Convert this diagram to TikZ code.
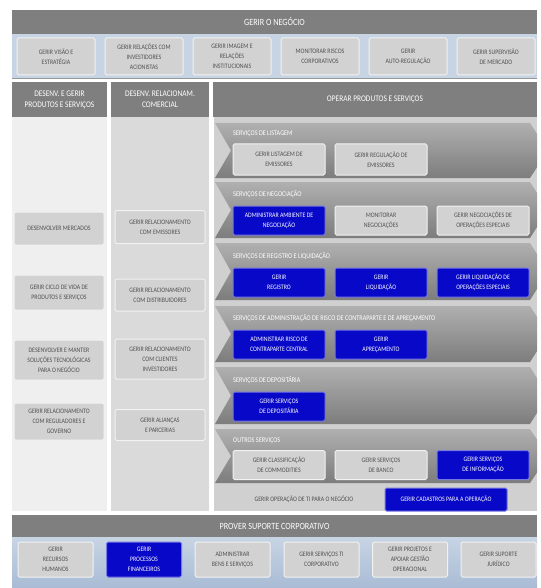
\documentclass[tikz,border=0pt]{standalone}
\usepackage{fontspec}
\setmainfont{Carlito}[FakeStretch=0.86]
\usepackage{xcolor}
\usepackage{tikz}
\usetikzlibrary{
positioning,
calc
}
\definecolor{hdrgray}{HTML}{7F7F7F}
\definecolor{bandblue}{HTML}{C7D4E4}
\definecolor{bandbluedk}{HTML}{A9BCD5}
\definecolor{boxgray}{HTML}{D2D2D2}
\definecolor{boxtext}{HTML}{505050}
\definecolor{procblue}{RGB}{8,8,200}
\definecolor{colone}{HTML}{EFEFEF}
\definecolor{coltwo}{HTML}{DADADA}
\definecolor{colthree}{HTML}{D0D0D0}
\definecolor{chevgray}{HTML}{9C9C9C}

\tikzset{
  hdrtext/.style={text=white, align=center, inner sep=0pt, font=\fontsize{8.6}{11}\selectfont},
  procbox/.style={fill=boxgray, draw=white!70!boxgray, line width=1pt, rounded corners=1.5pt,
    text=boxtext, align=center, inner sep=1pt, font=\fontsize{6.8}{10}\selectfont},
  bluebox/.style={procbox, fill=procblue, draw=procblue!55!white, text=white},
  topbox/.style={minimum width=78, minimum height=37},
  colbox/.style={minimum width=90},
  chevbox/.style={minimum width=92, minimum height=29},
  botbox/.style={minimum width=75, minimum height=35},
  chevlabel/.style={text=white, anchor=west, inner sep=0pt, font=\fontsize{7.2}{8}\selectfont}
}

\begin{document}
\begin{tikzpicture}[x=1pt, y=-1pt]
  \useasboundingbox (0,0) rectangle (540,588);
  % Gerir o negocio
  \fill[hdrgray] (12,10) rectangle (537,34);
  \fill[bandblue] (12,34) rectangle (537,79);
  \draw[hdrgray!80, line width=1pt] (12,79) -- (537,79);
  \node[hdrtext, font=\fontsize{9.5}{10}\selectfont] (negocio) at (274.5,22) {GERIR O NEGÓCIO};
  \node[procbox, topbox] (visao) at (56,56.5) {GERIR VISÃO E\\ESTRATÉGIA};
  \node[procbox, topbox] (acionistas) at (144,56.5) {GERIR RELAÇÕES COM\\INVESTIDORES\\ACIONISTAS};
  \node[procbox, topbox] (imagem) at (232,56.5) {GERIR IMAGEM E\\RELAÇÕES\\INSTITUCIONAIS};
  \node[procbox, topbox] (riscos) at (320,56.5) {MONITORAR RISCOS\\CORPORATIVOS};
  \node[procbox, topbox] (autoreg) at (408,56.5) {GERIR\\AUTO-REGULAÇÃO};
  \node[procbox, topbox] (supervisao) at (496,56.5) {GERIR SUPERVISÃO\\DE MERCADO};

  % Column headers and bodies
  \fill[hdrgray] (12,82) rectangle (107,117);
  \fill[hdrgray] (111,82) rectangle (209,117);
  \fill[hdrgray] (213,82) rectangle (537,117);
  \fill[colone] (12,117) rectangle (107,511);
  \fill[coltwo] (111,117) rectangle (209,511);
  \fill[colthree] (213,117) rectangle (537,511);
  \draw[white, line width=1.5pt] (213,117) -- (213,512) -- (537,512);
  \node[hdrtext] (desenvgerir) at (59.5,99.5) {DESENV. E GERIR\\PRODUTOS E SERVIÇOS};
  \node[hdrtext] (relacionam) at (160,99.5) {DESENV. RELACIONAM.\\COMERCIAL};
  \node[hdrtext] (operar) at (375,99.5) {OPERAR PRODUTOS E SERVIÇOS};

  % Desenv. e gerir produtos e servicos
  \node[procbox, colbox, minimum height=33] (mercados) at (59,228.5) {DESENVOLVER MERCADOS};
  \node[procbox, colbox, minimum height=35] (ciclo) at (59,292.5) {GERIR CICLO DE VIDA DE\\PRODUTOS E SERVIÇOS};
  \node[procbox, colbox, minimum height=40] (solucoes) at (59,360) {DESENVOLVER E MANTER\\SOLUÇÕES TECNOLÓGICAS\\PARA O NEGÓCIO};
  \node[procbox, colbox, minimum height=37] (reguladores) at (59,421.5) {GERIR RELACIONAMENTO\\COM REGULADORES E\\GOVERNO};

  % Desenv. relacionam. comercial
  \node[procbox, colbox, minimum height=33] (emissores) at (160,227) {GERIR RELACIONAMENTO\\COM EMISSORES};
  \node[procbox, colbox, minimum height=32] (distribuidores) at (160,295) {GERIR RELACIONAMENTO\\COM DISTRIBUIDORES};
  \node[procbox, colbox, minimum height=40] (clientes) at (160,359) {GERIR RELACIONAMENTO\\COM CLIENTES\\INVESTIDORES};
  \node[procbox, colbox, minimum height=31] (aliancas) at (160,425) {GERIR ALIANÇAS\\E PARCERIAS};

  % Chevrons of operar produtos e servicos
  \begin{scope}
    \clip (213,117) rectangle (537,511);
    \foreach \t/\b in {123/178, 182/238, 243/300, 306/362, 367/424, 429/483} {
      \shade[top color=chevgray!80!white, bottom color=chevgray!80!black]
        (215,\t) -- (530,\t) -- (548,{(\t+\b)/2}) -- (530,\b) -- (215,\b) -- (231,{(\t+\b)/2}) -- cycle;
    }
  \end{scope}
  \node[chevlabel] (listagem) at (233,134) {SERVIÇOS DE LISTAGEM};
  \node[procbox, chevbox, minimum height=31] (glistagem) at (279,159.5) {GERIR LISTAGEM DE\\EMISSORES};
  \node[procbox, chevbox, minimum height=31] (gregulacao) at (381,159.5) {GERIR REGULAÇÃO DE\\EMISSORES};

  \node[chevlabel] (negociacao) at (233,194) {SERVIÇOS DE NEGOCIAÇÃO};
  \node[bluebox, chevbox] (ambiente) at (279,220.5) {ADMINISTRAR AMBIENTE DE\\NEGOCIAÇÃO};
  \node[procbox, chevbox] (monitorar) at (381,220.5) {MONITORAR\\NEGOCIAÇÕES};
  \node[procbox, chevbox] (especiais) at (483,220.5) {GERIR NEGOCIAÇÕES DE\\OPERAÇÕES ESPECIAIS};

  \node[chevlabel] (registro) at (233,256) {SERVIÇOS DE REGISTRO E LIQUIDAÇÃO};
  \node[bluebox, chevbox] (gregistro) at (279,282.5) {GERIR\\REGISTRO};
  \node[bluebox, chevbox] (gliquidacao) at (381,282.5) {GERIR\\LIQUIDAÇÃO};
  \node[bluebox, chevbox] (liqespeciais) at (483,282.5) {GERIR LIQUIDAÇÃO DE\\OPERAÇÕES ESPECIAIS};

  \node[chevlabel] (risco) at (233,318) {SERVIÇOS DE ADMINISTRAÇÃO DE RISCO DE CONTRAPARTE E DE APREÇAMENTO};
  \node[bluebox, chevbox] (contraparte) at (279,344.5) {ADMINISTRAR RISCO DE\\CONTRAPARTE CENTRAL};
  \node[bluebox, chevbox] (aprecamento) at (381,344.5) {GERIR\\APREÇAMENTO};

  \node[chevlabel] (depositaria) at (233,380) {SERVIÇOS DE DEPOSITÁRIA};
  \node[bluebox, chevbox] (gdepositaria) at (279,406.5) {GERIR SERVIÇOS\\DE DEPOSITÁRIA};

  \node[chevlabel] (outros) at (233,441) {OUTROS SERVIÇOS};
  \node[procbox, chevbox] (commodities) at (279,465) {GERIR CLASSIFICAÇÃO\\DE COMMODITIES};
  \node[procbox, chevbox] (banco) at (381,465) {GERIR SERVIÇOS\\DE BANCO};
  \node[bluebox, chevbox] (informacao) at (483,465) {GERIR SERVIÇOS\\DE INFORMAÇÃO};

  \node[text=boxtext, inner sep=1pt, font=\fontsize{6.8}{8}\selectfont] (operacaoti) at (304,499) {GERIR OPERAÇÃO DE TI PARA O NEGÓCIO};
  \node[bluebox, minimum width=122, minimum height=23] (cadastros) at (446,499.5) {GERIR CADASTROS PARA A OPERAÇÃO};

  % Prover suporte corporativo
  \fill[hdrgray] (12,515) rectangle (537,537);
  \shade[top color=bandblue, bottom color=bandbluedk] (12,537) rectangle (537,588);
  \node[hdrtext, font=\fontsize{9.5}{10}\selectfont] (suporte) at (274.5,526) {PROVER SUPORTE CORPORATIVO};
  \node[procbox, botbox] (humanos) at (55.5,559.5) {GERIR\\RECURSOS\\HUMANOS};
  \node[bluebox, botbox] (financeiros) at (144,559.5) {GERIR\\PROCESSOS\\FINANCEIROS};
  \node[procbox, botbox] (bens) at (232.5,559.5) {ADMINISTRAR\\BENS E SERVIÇOS};
  \node[procbox, botbox] (servicosti) at (321.5,559.5) {GERIR SERVIÇOS TI\\CORPORATIVO};
  \node[procbox, botbox] (projetos) at (410,559.5) {GERIR PROJETOS E\\APOIAR GESTÃO\\OPERACIONAL};
  \node[procbox, botbox] (juridico) at (498.5,559.5) {GERIR SUPORTE\\JURÍDICO};
\end{tikzpicture}
\end{document}
